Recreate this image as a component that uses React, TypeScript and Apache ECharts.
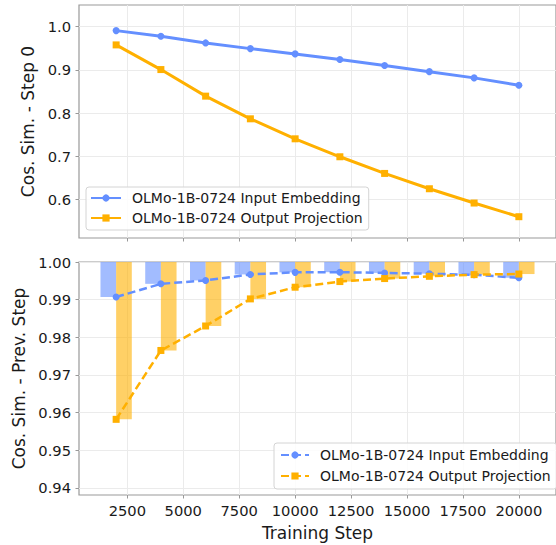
import React, { useEffect, useRef } from "react";
import * as echarts from "echarts";

// ---------- data ----------
const steps = [2000, 4000, 6000, 8000, 10000, 12000, 14000, 16000, 18000, 20000];
const inputVsStep0 = [0.9908, 0.9778, 0.9624, 0.9492, 0.937, 0.9239, 0.910, 0.896, 0.8816, 0.8647];
const outputVsStep0 = [0.9578, 0.9008, 0.8394, 0.787, 0.7408, 0.6993, 0.6608, 0.6254, 0.5924, 0.5608];
const inputVsPrev = [0.9907, 0.9942, 0.9951, 0.9967, 0.99725, 0.9973, 0.9971, 0.9969, 0.9966, 0.9958];
const outputVsPrev = [0.9582, 0.9765, 0.983, 0.9902, 0.9933, 0.9948, 0.9956, 0.9962, 0.99665, 0.9968];
const xTicks = [2500, 5000, 7500, 10000, 12500, 15000, 17500, 20000];
const topYTicks = [0.6, 0.7, 0.8, 0.9, 1.0];
const bottomYTicks = [0.94, 0.95, 0.96, 0.97, 0.98, 0.99, 1.0];
const inputLabel = "OLMo-1B-0724 Input Embedding";
const outputLabel = "OLMo-1B-0724 Output Projection";
const topYName = "Cos. Sim. - Step 0";
const bottomYName = "Cos. Sim. - Prev. Step";
const xName = "Training Step";

// ---------- styles ----------
const FONT = "DejaVu Sans";
const BLUE = "#648FFF";
const ORANGE = "#FFB000";
const TEXT = "#1a1a1a";
const SPINE = "#999999";
const GRIDLINE = "#ebebeb";
const BAR_SPAN = 700; // bar width in x-data units
const BAR_TOP = 1.0;

const labelMap: Record<string, string> = {
  in0: inputLabel,
  out0: outputLabel,
  inP: inputLabel,
  outP: outputLabel,
};

const pair = (xs: number[], ys: number[]) => xs.map((x, i) => [x, ys[i]]);

function barSeries(name: string, values: number[], color: string, side: number) {
  return {
    type: "custom",
    name,
    xAxisIndex: 1,
    yAxisIndex: 1,
    z: 1,
    data: pair(steps, values),
    renderItem: (_params: any, api: any) => {
      const x = api.value(0);
      const v = api.value(1);
      const x0 = side < 0 ? x - BAR_SPAN : x;
      const x1 = side < 0 ? x : x + BAR_SPAN;
      const a = api.coord([x0, BAR_TOP]);
      const b = api.coord([x1, v]);
      return {
        type: "rect",
        shape: { x: a[0], y: a[1], width: b[0] - a[0], height: b[1] - a[1] },
        style: { fill: color, opacity: 0.6 },
      };
    },
  };
}

export default function App() {
  const ref = useRef<HTMLDivElement>(null);

  useEffect(() => {
    document.body.style.margin = "0";
    const chart = echarts.init(ref.current!, null, { renderer: "svg" });

    const tickLabel = { fontFamily: FONT, fontSize: 14.7, color: TEXT };
    const axisName = { fontFamily: FONT, fontSize: 17, color: TEXT };

    const xAxisBase = (gridIndex: number, showLabels: boolean) => ({
      type: "value",
      gridIndex,
      min: 340,
      max: 21660,
      axisLine: { show: false },
      axisTick: {
        show: true,
        length: 3.5,
        lineStyle: { color: SPINE, width: 1 },
        customValues: xTicks,
      },
      axisLabel: {
        show: showLabels,
        ...tickLabel,
        margin: 8,
        customValues: xTicks,
        formatter: (v: number) => String(v),
      },
      splitLine: { show: true, lineStyle: { color: GRIDLINE, width: 1 } },
    });

    const yAxisBase = (gridIndex: number, min: number, max: number, ticks: number[], digits: number, name: string) => ({
      type: "value",
      gridIndex,
      min,
      max,
      name,
      nameLocation: "middle",
      nameGap: 42,
      nameTextStyle: axisName,
      axisLine: { show: false },
      axisTick: {
        show: true,
        length: 3.5,
        lineStyle: { color: SPINE, width: 1 },
        customValues: ticks,
      },
      axisLabel: {
        ...tickLabel,
        margin: 8,
        customValues: ticks,
        formatter: (v: number) => v.toFixed(digits),
      },
      splitLine: { show: true, lineStyle: { color: GRIDLINE, width: 1 } },
    });

    const legendBase = {
      orient: "vertical",
      itemWidth: 30,
      itemHeight: 9,
      itemGap: 6,
      borderColor: "#d4d4d4",
      borderWidth: 1,
      borderRadius: 3,
      backgroundColor: "rgba(255,255,255,0.85)",
      formatter: (n: string) => labelMap[n],
      textStyle: { fontFamily: FONT, fontSize: 14, color: TEXT, padding: [0, 0, 0, 6], lineHeight: 14 },
    };

    chart.setOption({
      animation: false,
      backgroundColor: "#ffffff",
      textStyle: { fontFamily: FONT },
      grid: [
        { left: 79, top: 5, right: -3, height: 233, show: true, borderColor: SPINE, borderWidth: 1.2, backgroundColor: "transparent" },
        { left: 79, top: 262, right: -3, height: 233, show: true, borderColor: SPINE, borderWidth: 1.2, backgroundColor: "transparent" },
      ],
      xAxis: [
        xAxisBase(0, false),
        { ...xAxisBase(1, true), name: xName, nameLocation: "middle", nameGap: 29, nameTextStyle: axisName },
      ],
      yAxis: [
        yAxisBase(0, 0.5116, 1.05, topYTicks, 1, topYName),
        yAxisBase(1, 0.9381, 1.0, bottomYTicks, 2, bottomYName),
      ],
      legend: [
        { ...legendBase, data: ["in0", "out0"], left: 86, top: 187, padding: [4, 6, 5, 4] },
        { ...legendBase, data: ["inP", "outP"], left: 274, top: 443, itemWidth: 28, itemGap: 7, padding: [5, 6, 6, 6] },
      ],
      series: [
        {
          type: "line",
          name: "in0",
          xAxisIndex: 0,
          yAxisIndex: 0,
          data: pair(steps, inputVsStep0),
          symbol: "circle",
          symbolSize: 7,
          itemStyle: { color: BLUE },
          lineStyle: { color: BLUE, width: 3 },
          z: 3,
        },
        {
          type: "line",
          name: "out0",
          xAxisIndex: 0,
          yAxisIndex: 0,
          data: pair(steps, outputVsStep0),
          symbol: "rect",
          symbolSize: 7,
          itemStyle: { color: ORANGE },
          lineStyle: { color: ORANGE, width: 3 },
          z: 3,
        },
        barSeries("barIn", inputVsPrev, BLUE, -1),
        barSeries("barOut", outputVsPrev, ORANGE, 1),
        {
          type: "line",
          name: "inP",
          xAxisIndex: 1,
          yAxisIndex: 1,
          data: pair(steps, inputVsPrev),
          symbol: "circle",
          symbolSize: 7,
          itemStyle: { color: BLUE },
          lineStyle: { color: BLUE, width: 2.5, type: [8, 4] },
          z: 3,
        },
        {
          type: "line",
          name: "outP",
          xAxisIndex: 1,
          yAxisIndex: 1,
          data: pair(steps, outputVsPrev),
          symbol: "rect",
          symbolSize: 7,
          itemStyle: { color: ORANGE },
          lineStyle: { color: ORANGE, width: 2.5, type: [8, 4] },
          z: 3,
        },
      ],
    });

    return () => chart.dispose();
  }, []);

  return <div ref={ref} style={{ width: 556, height: 545 }} />;
}
